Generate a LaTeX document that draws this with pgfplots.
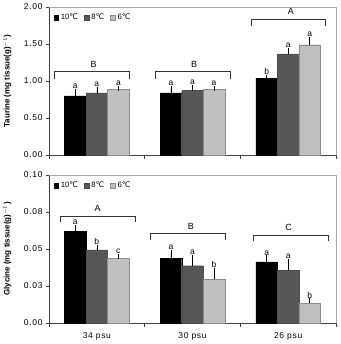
\documentclass[border=0pt]{standalone}
\usepackage{fontspec}
\setmainfont{Liberation Sans}
\newfontfamily\dejavu{DejaVu Sans}
\usepackage{pgfplots}
\usepackage{pgfplotstable}
\pgfplotsset{compat=1.18}

\newcommand{\degC}{{\dejavu ℃}}

% columns: group position, mean / error / letter for 10, 8 and 6 degrees
\pgfplotstableread{
x  y10    e10    l10  y8     e8     l8  y6     e6     l6
0  0.800  0.060  a    0.840  0.050  a   0.890  0.010  a
1  0.840  0.065  a    0.870  0.040  a   0.890  0.010  a
2  1.040  0.010  b    1.365  0.045  a   1.490  0.070  a
}\taurine

\pgfplotstableread{
x  y10    e10    l10  y8     e8     l8  y6     e6     l6
0  0.0620 0.0025 a    0.0494 0.0015 b   0.0436 0.0015 c
1  0.0438 0.0040 a    0.0387 0.0056 a   0.0294 0.0060 b
2  0.0413 0.0027 a    0.0357 0.0058 a   0.0135 0.0015 b
}\glycine

\definecolor{cTen}{gray}{0.0}
\definecolor{cEight}{HTML}{575757}
\definecolor{cSix}{HTML}{C0C0C0}
\definecolor{cSixEdge}{HTML}{8C8C8C}

\pgfplotsset{
  panel/.style={
    scale only axis, width=287bp, height=148bp,
    xmin=-0.5, xmax=2.5, ymin=0,
    axis lines*=left,
    axis line style={black!75, line width=0.5pt},
    tick align=outside,
    xtick={0,1,2},
    minor xtick={-0.5,0.5,1.5,2.5},
    major x tick style={draw=none},
    minor tick length=4bp,
    major tick length=3bp,
    every tick/.style={black!75, line width=0.5pt},
    tick label style={font=\fontsize{8.5}{10}\selectfont\addfontfeature{LetterSpace=8}},
    /pgf/number format/assume math mode=true,
    every axis y label/.style={at={(axis description cs:-0.146,0.5)}, rotate=90, anchor=center,
      font=\bfseries\fontsize{8}{10}\selectfont},
    legend columns=3,
    legend style={draw=none, fill=none, at={(axis description cs:0.012,0.975)}, anchor=north west,
      font=\fontsize{7.8}{9}\selectfont, inner sep=1pt,
      /tikz/every even column/.append style={column sep=4bp}},
    legend cell align=left,
    clip=false,
  },
  sq legend/.style={legend image code/.code={\draw[##1] (0bp,-2.4bp) rectangle (4.8bp,2.4bp);}},
  barset/.style={ybar, bar width=0.225, bar shift=0pt, line width=0.4pt,
    error bars/y dir=plus, error bars/y explicit,
    error bars/error bar style={black, line width=0.5pt},
    error bars/error mark options={black, line width=0.5pt, mark size=2.5bp}},
  lbls/.style={draw=none, mark=none, forget plot,
    nodes near coords, point meta=explicit symbolic,
    nodes near coords style={font=\fontsize{8.5}{9}\selectfont, anchor=south, inner sep=0pt, yshift=2.5bp}},
}

% bracket over a group: x from, x to, height, centre of letter, letter, drop
\newcommand{\bracket}[6]{%
  \draw[black!80, line width=0.5pt] ([yshift=-#6]axis cs:#1,#3) -- (axis cs:#1,#3)
    -- (axis cs:#2,#3) -- ([yshift=-#6]axis cs:#2,#3);
  \node[font=\fontsize{9}{10}\selectfont, anchor=south, inner sep=0pt] at ([yshift=4bp]axis cs:#4,#3) {#5};
}

\begin{document}
\begin{tikzpicture}
\useasboundingbox (-49bp,-21bp) rectangle (292bp,323bp);

% ---- Taurine ----
\begin{axis}[panel, at={(0,168bp)}, ymax=2,
  ytick={0,0.5,1,1.5,2}, yticklabels={0.00,0.50,1.00,1.50,2.00},
  xticklabels={},
  ylabel={Taurine (mg tissue(g)$^{-1}$)}]
\addplot[barset, sq legend, fill=cTen, draw=black]
  table[x expr=\thisrow{x}-0.225, y=y10, y error=e10]{\taurine};
\addplot[barset, sq legend, fill=cEight, draw=black!70]
  table[x=x, y=y8, y error=e8]{\taurine};
\addplot[barset, sq legend, fill=cSix, draw=cSixEdge]
  table[x expr=\thisrow{x}+0.225, y=y6, y error=e6]{\taurine};
\legend{10\degC, 8\degC, 6\degC}
\addplot[lbls] table[x expr=\thisrow{x}-0.225, y expr=\thisrow{y10}+\thisrow{e10}, meta=l10]{\taurine};
\addplot[lbls] table[x=x, y expr=\thisrow{y8}+\thisrow{e8}, meta=l8]{\taurine};
\addplot[lbls] table[x expr=\thisrow{x}+0.225, y expr=\thisrow{y6}+\thisrow{e6}, meta=l6]{\taurine};
\draw[black!35, line width=0.5pt] (rel axis cs:0,1) -- (rel axis cs:1,1) -- (rel axis cs:1,0);
\bracket{-0.44}{0.343}{1.125}{-0.034}{B}{7bp}
\bracket{0.613}{1.390}{1.125}{1.017}{B}{7bp}
\bracket{1.611}{2.388}{1.840}{2.028}{A}{7bp}
\end{axis}

% ---- Glycine ----
\begin{axis}[panel, at={(0,0)}, ymax=0.1,
  ytick={0,0.025,0.05,0.075,0.1}, yticklabels={0.00,0.03,0.05,0.08,0.10},
  xticklabels={34 psu,30 psu,26 psu},
  xticklabel style={font=\fontsize{8.5}{10}\selectfont\addfontfeature{LetterSpace=8}, yshift=-3bp},
  ylabel={Glycine (mg tissue(g)$^{-1}$)}]
\addplot[barset, sq legend, fill=cTen, draw=black]
  table[x expr=\thisrow{x}-0.225, y=y10, y error=e10]{\glycine};
\addplot[barset, sq legend, fill=cEight, draw=black!70]
  table[x=x, y=y8, y error=e8]{\glycine};
\addplot[barset, sq legend, fill=cSix, draw=cSixEdge]
  table[x expr=\thisrow{x}+0.225, y=y6, y error=e6]{\glycine};
\legend{10\degC, 8\degC, 6\degC}
\addplot[lbls] table[x expr=\thisrow{x}-0.225, y expr=\thisrow{y10}+\thisrow{e10}, meta=l10]{\glycine};
\addplot[lbls] table[x=x, y expr=\thisrow{y8}+\thisrow{e8}, meta=l8]{\glycine};
\addplot[lbls] table[x expr=\thisrow{x}+0.225, y expr=\thisrow{y6}+\thisrow{e6}, meta=l6]{\glycine};
\draw[black!35, line width=0.5pt] (rel axis cs:0,1) -- (rel axis cs:1,1) -- (rel axis cs:1,0);
\bracket{-0.38}{0.40}{0.0724}{0.008}{A}{6.5bp}
\bracket{0.561}{1.338}{0.0604}{0.982}{B}{6.5bp}
\bracket{1.639}{2.416}{0.0596}{2.005}{C}{6.5bp}
\end{axis}
\end{tikzpicture}
\end{document}
